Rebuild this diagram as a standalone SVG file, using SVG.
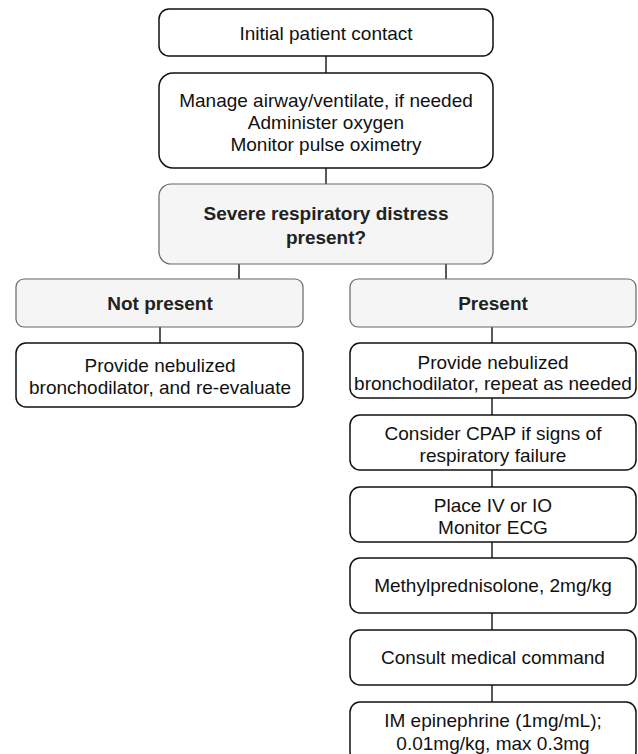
<svg xmlns="http://www.w3.org/2000/svg" width="638" height="754" viewBox="0 0 638 754">
<style>
.box{fill:#fff;stroke:#111;stroke-width:1.5}
.gbox{fill:#f5f5f5;stroke:#666;stroke-width:1.2}
.t{font-family:"Liberation Sans",Arial,sans-serif;font-size:19px;fill:#111;text-anchor:middle}
.b{font-weight:bold;fill:#222}
.c{stroke:#222;stroke-width:1.5;fill:none}
</style>
<rect width="638" height="754" fill="#fff"/>
<g id="connectors">
<line class="c" x1="326" y1="56" x2="326" y2="73"/>
<line class="c" x1="326" y1="168" x2="326" y2="184"/>
<line class="c" x1="239" y1="264" x2="239" y2="279"/>
<line class="c" x1="446" y1="264" x2="446" y2="279"/>
<line class="c" x1="160" y1="327" x2="160" y2="343"/>
<line class="c" x1="492" y1="327" x2="492" y2="343"/>
<line class="c" x1="492" y1="398" x2="492" y2="415"/>
<line class="c" x1="492" y1="470" x2="492" y2="487"/>
<line class="c" x1="492" y1="542" x2="492" y2="558"/>
<line class="c" x1="492" y1="613" x2="492" y2="630"/>
<line class="c" x1="492" y1="685" x2="492" y2="702"/>
</g>
<g id="initial">
<rect class="box" x="159" y="9" width="334" height="47" rx="10"/>
<text class="t" x="326" y="39.5">Initial patient contact</text>
</g>
<g id="manage">
<rect class="box" x="159" y="73" width="334" height="95" rx="14"/>
<text class="t" x="326" y="107">Manage airway/ventilate, if needed</text>
<text class="t" x="326" y="129">Administer oxygen</text>
<text class="t" x="326" y="151">Monitor pulse oximetry</text>
</g>
<g id="decision">
<rect class="gbox" x="159" y="184" width="334" height="80" rx="12"/>
<text class="t b" x="326" y="219.5">Severe respiratory distress</text>
<text class="t b" x="326" y="243.5">present?</text>
</g>
<g id="not-present">
<rect class="gbox" x="16" y="279" width="287" height="48" rx="8"/>
<text class="t b" x="160" y="309.5">Not present</text>
</g>
<g id="np-neb">
<rect class="box" x="16" y="343" width="287" height="64" rx="10"/>
<text class="t" x="160" y="372">Provide nebulized</text>
<text class="t" x="160" y="394">bronchodilator, and re-evaluate</text>
</g>
<g id="present">
<rect class="gbox" x="350" y="279" width="286" height="48" rx="8"/>
<text class="t b" x="493" y="309.5">Present</text>
</g>
<g id="p-neb">
<rect class="box" x="350" y="343" width="286" height="55" rx="10"/>
<text class="t" x="493" y="368.5">Provide nebulized</text>
<text class="t" x="493" y="390">bronchodilator, repeat as needed</text>
</g>
<g id="cpap">
<rect class="box" x="350" y="415" width="286" height="55" rx="10"/>
<text class="t" x="493" y="439.5">Consider CPAP if signs of</text>
<text class="t" x="493" y="461.5">respiratory failure</text>
</g>
<g id="ivio">
<rect class="box" x="350" y="487" width="286" height="55" rx="10"/>
<text class="t" x="493" y="511.5">Place IV or IO</text>
<text class="t" x="493" y="533.5">Monitor ECG</text>
</g>
<g id="methyl">
<rect class="box" x="350" y="558" width="286" height="55" rx="10"/>
<text class="t" x="493" y="592">Methylprednisolone, 2mg/kg</text>
</g>
<g id="consult">
<rect class="box" x="350" y="630" width="286" height="55" rx="10"/>
<text class="t" x="493" y="664">Consult medical command</text>
</g>
<g id="epi">
<rect class="box" x="350" y="702" width="286" height="60" rx="10"/>
<text class="t" x="493" y="727">IM epinephrine (1mg/mL);</text>
<text class="t" x="493" y="749.5">0.01mg/kg, max 0.3mg</text>
</g>
</svg>
